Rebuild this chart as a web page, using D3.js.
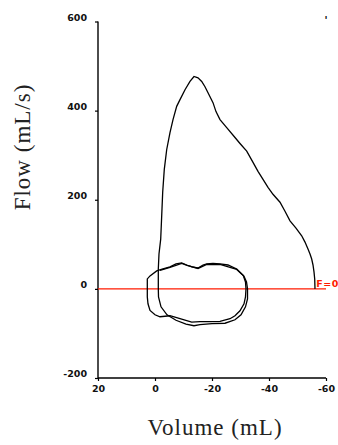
<!DOCTYPE html>
<html><head><meta charset="utf-8">
<script src="https://cdn.jsdelivr.net/npm/d3@7"></script>
<style>body{margin:0;background:#fff;}svg{display:block;}</style>
</head><body>
<svg id="c" width="338" height="445"></svg>
<script>
const xTicks = [20, 0, -20, -40, -60];
const yTicks = [-200, 0, 200, 400, 600];
const xLabel = "Volume (mL)";
const yLabel = "Flow (mL/s)";
const refLabel = "F=0";
// tidal loop 1 [volume, flow]
const loopA = [[2.7,0],[2.7,22.3],[1.75,29.1],[-0.6,40.2],[-2.8,44.7],[-5.26,49.2],[-7.37,55.9],[-9.37,58.1],[-11.12,53.6],[-12.98,49.2],[-15.09,46.9],[-16.84,53.6],[-18.14,55.9],[-20.35,57.0],[-22.81,55.9],[-25.61,53.6],[-28.67,44.7],[-30.98,29.7],[-31.75,15.6],[-31.93,0],[-31.75,-17.9],[-31.23,-33.5],[-29.82,-49.2],[-28.07,-60.3],[-26.32,-67.0],[-22.81,-73.1],[-19.3,-73.7],[-15.79,-73.7],[-12.88,-74.4],[-8.77,-67.0],[-5.26,-60.3],[-1.75,-62.6],[0,-58.1],[1.75,-48.5],[2.46,-33.5],[2.7,-17.9],[2.7,0]];
// tidal loop 2 followed by forced expiration
const loopB = [[-1.75,41.3],[-5.26,48.0],[-9.37,57.0],[-11.23,52.5],[-15.09,45.8],[-18.14,54.7],[-22.81,54.7],[-28.67,43.6],[-31.16,29.1],[-32.11,15.6],[-32.46,0],[-32.46,-22.3],[-31.75,-40.2],[-30.18,-58.1],[-28.07,-69.3],[-24.56,-77.1],[-20.0,-78.2],[-15.79,-80.4],[-13.68,-82.7],[-10.88,-79.3],[-7.37,-70.4],[-4.21,-58.1],[-2.11,-40.2],[-1.23,-17.9],[-1.16,0],[-1.16,44.7],[-1.4,78.2]];
const forced = [[-2.0,111.7],[-2.18,138.5],[-2.35,163.8],[-2.7,216.8],[-3.26,268.2],[-4.11,312.8],[-5.26,350.8],[-6.32,379.9],[-7.61,409.6],[-8.77,424.6],[-10.53,446.9],[-12.28,465.5],[-13.68,476.6],[-15.09,473.7],[-16.39,465.5],[-17.54,453.6],[-18.6,440.2],[-20.35,417.9],[-21.4,397.8],[-22.81,379.9],[-25.16,362.0],[-28.07,339.7],[-29.82,326.3],[-32.18,309.0],[-34.39,283.8],[-36.14,263.7],[-37.9,245.8],[-39.65,227.9],[-41.4,212.3],[-43.86,194.4],[-45.61,174.3],[-47.37,152.6],[-49.47,136.3],[-51.47,119.1],[-52.63,105.0],[-53.68,89.4],[-54.39,78.2],[-54.98,67.0],[-55.44,53.6],[-55.79,38.0],[-56.04,22.3],[-56.14,0]];

const svg = d3.select("#c");
const x = d3.scaleLinear().domain([20,-60]).range([98,326]);
const y = d3.scaleLinear().domain([-200,600]).range([378,21.5]);
const fmt = d => String(d);

const tickFont = "DejaVu Sans";
const ya = svg.append("g").attr("transform",`translate(${x(20)},0)`)
  .call(d3.axisLeft(y).tickValues(yTicks).tickSize(3).tickPadding(8).tickFormat(fmt));
ya.select(".domain").remove();
ya.selectAll(".tick line").attr("stroke","#000").attr("stroke-width",1.2);
ya.selectAll(".tick text").attr("font-family",tickFont).attr("font-weight","bold").attr("font-size","9.5px").attr("dy","-0.15em").attr("fill","#111");

const xa = svg.append("g").attr("transform",`translate(0,${y(-200)})`)
  .call(d3.axisBottom(x).tickValues(xTicks).tickSize(3).tickPadding(4).tickFormat(fmt));
xa.select(".domain").remove();
xa.selectAll(".tick line").attr("stroke","#000").attr("stroke-width",1.2);
xa.selectAll(".tick text").attr("font-family",tickFont).attr("font-weight","bold").attr("font-size","9.5px").attr("fill","#111");

// axis lines
svg.append("line").attr("x1",x(20)).attr("x2",x(20)).attr("y1",y(600)).attr("y2",y(-200)).attr("stroke","#000").attr("stroke-width",1.4);
svg.append("line").attr("x1",x(20)).attr("x2",x(-60)).attr("y1",y(-200)).attr("y2",y(-200)).attr("stroke","#000").attr("stroke-width",1.4);

// zero-flow reference
svg.append("line").attr("x1",x(20)).attr("x2",x(-60)).attr("y1",y(0)).attr("y2",y(0)).attr("stroke","#ff1a00").attr("stroke-width",1.3);

const line = d3.line().x(d=>x(d[0])).y(d=>y(d[1])).curve(d3.curveLinear);
svg.append("path").attr("d",line(loopA)).attr("fill","none").attr("stroke","#000").attr("stroke-width",1.3);
svg.append("path").attr("d",line(loopB.concat(forced))).attr("fill","none").attr("stroke","#000").attr("stroke-width",1.3);

svg.append("text").attr("x",x(-56.6)).attr("y",y(0)-2).text(refLabel)
  .attr("font-family",tickFont).attr("font-weight","bold").attr("font-size","9.5px").attr("fill","#ff1a00").attr("letter-spacing","0.5px");

svg.append("text").attr("x",x(-60)).attr("y",y(600)+2).attr("text-anchor","middle").text("'")
  .attr("font-family",tickFont).attr("font-weight","bold").attr("font-size","10px").attr("fill","#000");

svg.append("text").attr("x",215).attr("y",435).attr("text-anchor","middle").text(xLabel)
  .attr("font-family","Liberation Serif").attr("font-size","23px").attr("letter-spacing","1px").attr("fill","#222");
svg.append("text").attr("transform","translate(30,147) rotate(-90)").attr("text-anchor","middle").text(yLabel)
  .attr("font-family","Liberation Serif").attr("font-size","23px").attr("letter-spacing","1px").attr("fill","#222");
</script>
</body></html>
